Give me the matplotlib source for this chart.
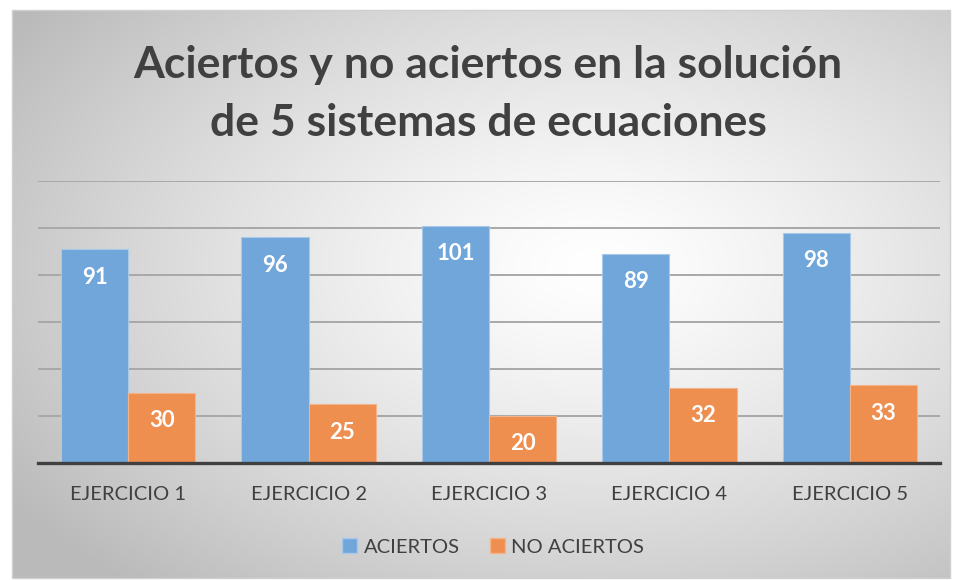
import numpy as np
import matplotlib
matplotlib.use("Agg")
import matplotlib.pyplot as plt
from matplotlib.patches import Patch, Rectangle

categories = ["EJERCICIO 1", "EJERCICIO 2", "EJERCICIO 3", "EJERCICIO 4", "EJERCICIO 5"]
aciertos = [91, 96, 101, 89, 98]
no_aciertos = [30, 25, 20, 32, 33]
series_names = ["ACIERTOS", "NO ACIERTOS"]
title = "Aciertos y no aciertos en la solución\nde 5 sistemas de ecuaciones"

BLUE = "#70A6DA"
ORANGE = "#EE8E4F"
TXT = "#404040"
FONT = ["Lato", "DejaVu Sans"]

W, H = 957, 580
fig = plt.figure(figsize=(W / 100, H / 100), dpi=100, facecolor="white")

# chart area background with radial gradient
x0, x1, yt, yb = 12, 950, 10, 578
bg = fig.add_axes([x0 / W, (H - yb) / H, (x1 - x0) / W, (yb - yt) / H])
nx, ny = 400, 250
gx, gy = np.meshgrid(np.linspace(0, 1, nx), np.linspace(0, 1, ny))
cx, cy = 0.62, 0.55
d = np.sqrt(((gx - cx) / 0.75) ** 2 + ((gy - cy) / 0.75) ** 2)
d = np.clip(d, 0, 1)
v = 1.0 - 0.27 * d ** 1.3
img = np.dstack([v, v, v])
bg.imshow(img, extent=[0, 1, 0, 1], aspect="auto", origin="lower", zorder=0)
bg.set_xlim(0, 1)
bg.set_ylim(0, 1)
bg.axis("off")
bg.add_patch(Rectangle((0, 0), 1, 1, transform=bg.transAxes, fill=False,
                       edgecolor="#d0d0d0", linewidth=1.0, clip_on=False))

# main axes
px0, px1, py_base, py_top = 38, 940, 463, 181
ax = fig.add_axes([px0 / W, (H - py_base) / H, (px1 - px0) / W, (py_base - py_top) / H])
ax.patch.set_alpha(0)
x = np.arange(len(categories))
bw = 0.372
b1 = ax.bar(x - bw / 2, aciertos, bw, color=BLUE, edgecolor="#a9c9ea", linewidth=0.8, zorder=3)
b2 = ax.bar(x + bw / 2, no_aciertos, bw, color=ORANGE, edgecolor="#f4b48a", linewidth=0.8, zorder=3)
ax.set_xlim(-0.5, len(categories) - 0.5)
ax.set_ylim(0, 120)
ax.set_yticks([20, 40, 60, 80, 100, 120])
ax.yaxis.grid(True, color="#a8a8a8", linewidth=1.4, zorder=1)
ax.tick_params(axis="y", left=False, labelleft=False)
ax.tick_params(axis="x", bottom=False, pad=13)
ax.set_xticks(x)
ax.set_xticklabels(categories, fontsize=14.5, color=TXT, family=FONT)
for s in ["top", "right", "left"]:
    ax.spines[s].set_visible(False)
ax.spines["bottom"].set_color("#404040")
ax.spines["bottom"].set_linewidth(2.4)
ax.spines["bottom"].set_zorder(4)

for bars in (b1, b2):
    for rect in bars:
        h = rect.get_height()
        ax.annotate(f"{int(h)}", (rect.get_x() + rect.get_width() / 2, h),
                    xytext=(0, -28), textcoords="offset pixels",
                    ha="center", va="center", color="white", fontsize=16,
                    fontweight="bold", family=FONT, zorder=5)

fig.text(488 / W, 1 - 94 / H, title, ha="center", va="center", fontsize=32,
         fontweight="bold", color=TXT, family=FONT, linespacing=1.55)

handles = [Patch(facecolor=BLUE, edgecolor="#a9c9ea"), Patch(facecolor=ORANGE, edgecolor="#f4b48a")]
leg = fig.legend(handles, series_names, loc="center", bbox_to_anchor=(493 / W, 1 - 547 / H),
                 ncol=2, frameon=False, handlelength=0.75, handleheight=0.75,
                 handletextpad=0.3, columnspacing=1.5,
                 prop={"family": FONT, "size": 14.5})
for t in leg.get_texts():
    t.set_color(TXT)

fig.savefig("out.png", dpi=100, facecolor="white")
